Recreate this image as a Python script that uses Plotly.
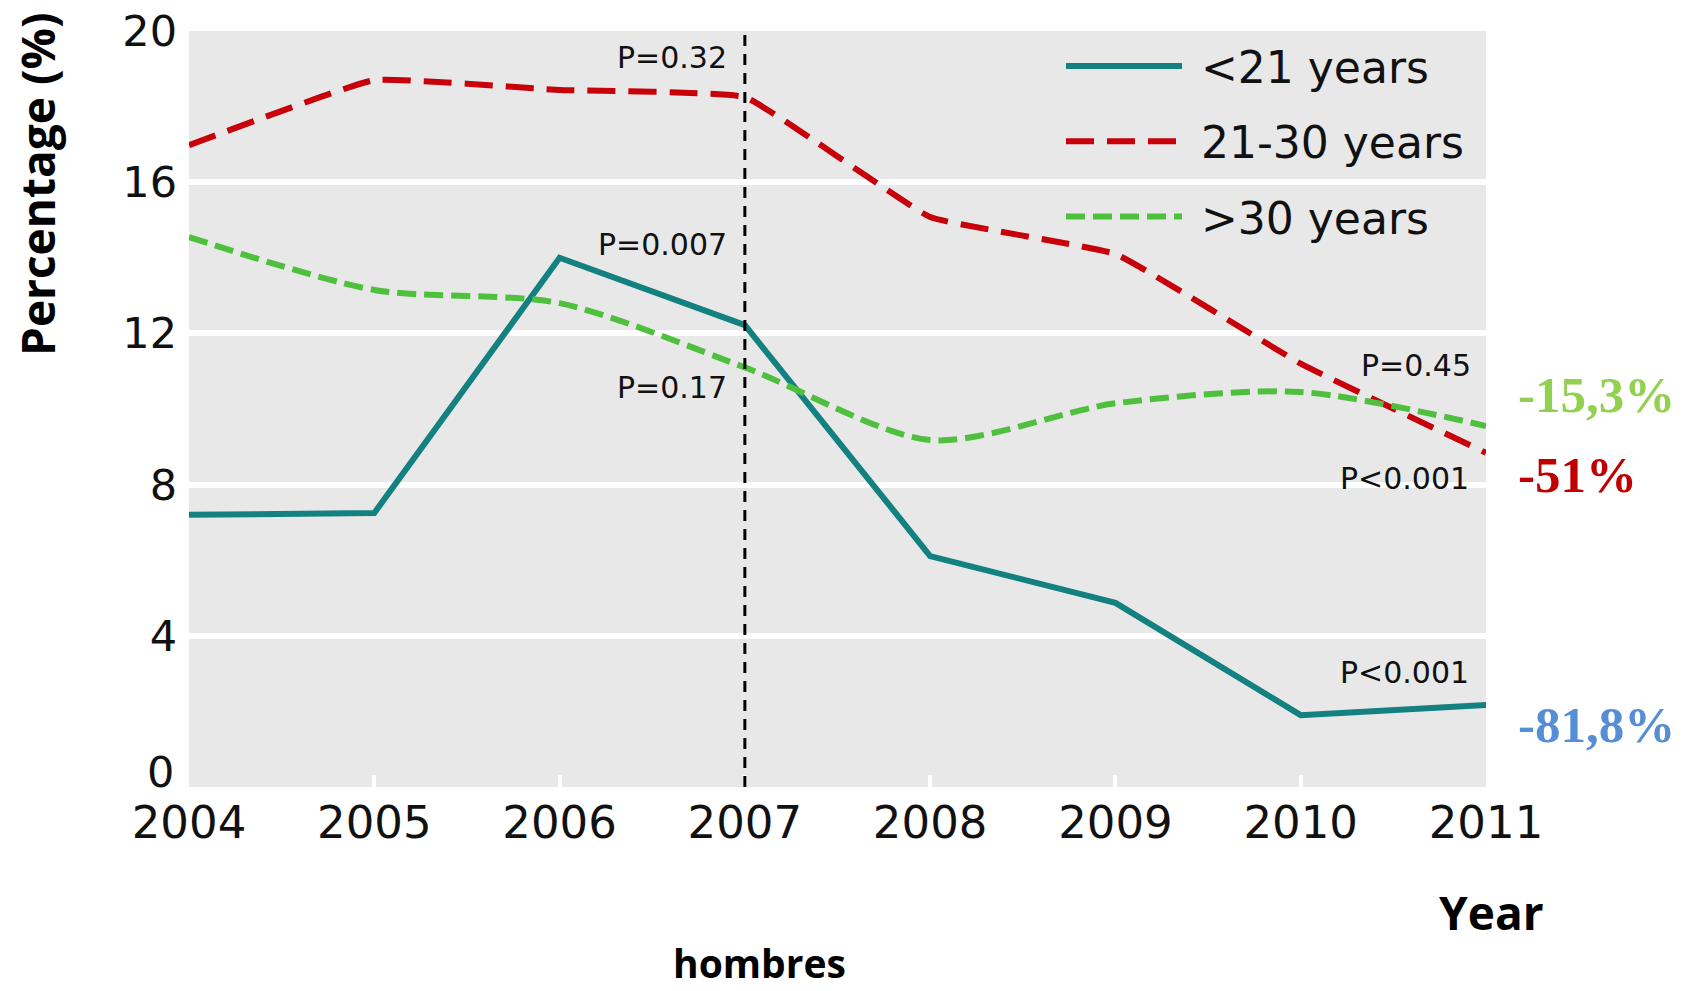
import plotly.graph_objects as go

years = [2004, 2005, 2006, 2007, 2008, 2009, 2010, 2011]
under21 = [7.2, 7.25, 14.0, 12.22, 6.11, 4.87, 1.9, 2.17]
age21_30 = [16.98, 18.7, 18.44, 18.25, 15.08, 14.1, 11.2, 8.84]
over30 = [14.55, 13.15, 12.8, 11.1, 9.18, 10.15, 10.45, 9.55]

series_names = ["<21 years", "21-30 years", ">30 years"]
yticks = [4, 8, 12, 16, 20]
y_zero_label = "0"

teal = "#13817f"
red = "#c8000a"
green = "#4fbf3e"

W, H = 1693, 991
L, R, T, B = 189, 207, 31, 204
PW, PH = W - L - R, H - T - B


def px(xp):
    return (xp - 189) / PW


def py(yp):
    return (787 - yp) / PH


NB = "\u00a0"

fig = go.Figure()
fig.add_trace(go.Scatter(x=years, y=under21, mode="lines", name=NB + series_names[0],
                         legendgroup="a",
                         line=dict(color=teal, width=6), cliponaxis=False))
fig.add_trace(go.Scatter(x=years, y=age21_30, mode="lines", name=NB + series_names[1],
                         legendgroup="b",
                         line=dict(color=red, width=6, dash="28px,13px",
                                   shape="spline", smoothing=0.3), cliponaxis=False))
fig.add_trace(go.Scatter(x=years, y=over30, mode="lines", name=NB + series_names[2],
                         legendgroup="c",
                         line=dict(color=green, width=6, dash="19px,8px",
                                   shape="spline", smoothing=0.8), cliponaxis=False))

# vertical dashed line at 2007
fig.add_shape(type="line", x0=2007, x1=2007, y0=0, y1=20, xref="x", yref="y",
              line=dict(color="black", width=3, dash="11px,8px"))

pfont = dict(family="DejaVu Sans", size=30, color="#111111")
p_labels = [
    (2007, 19.29, "P=0.32", -16),
    (2007, 14.34, "P=0.007", -16),
    (2007, 10.58, "P=0.17", -16),
    (2011, 11.14, "P=0.45", -13),
    (2011, 8.17, "P<0.001", -15),
    (2011, 3.04, "P<0.001", -15),
]
for x, y, t, xs in p_labels:
    fig.add_annotation(x=x, y=y, xref="x", yref="y", text=t, showarrow=False,
                       xanchor="right", yanchor="middle", xshift=xs, font=pfont)

pct_labels = [
    (10.37, "-15,3%", "#92d050"),
    (8.25, "-51%", "#c00000"),
    (1.64, "-81,8%", "#558ed5"),
]
for y, t, c in pct_labels:
    fig.add_annotation(x=2011, y=y, xref="x", yref="y", text="<b>" + t + "</b>",
                       showarrow=False, xanchor="left", yanchor="middle", xshift=30,
                       font=dict(family="Liberation Serif", size=51, color=c))

# "0" tick label sits raised, bottom-aligned with the axis
fig.add_annotation(x=px(176), y=py(772), xref="paper", yref="paper", text=y_zero_label,
                   showarrow=False, xanchor="right", yanchor="middle",
                   font=dict(family="DejaVu Sans", size=43, color="#111111"))

bold = dict(family="Open Sans", size=46, color="black")
fig.add_annotation(x=px(37), y=py(184), xref="paper", yref="paper",
                   text="<b>Percentage (%)</b>", textangle=-90, showarrow=False,
                   xanchor="center", yanchor="middle", font=bold)
fig.add_annotation(x=px(1491), y=py(912), xref="paper", yref="paper",
                   text="<b>Year</b>", showarrow=False,
                   xanchor="center", yanchor="middle", font=bold)
fig.add_annotation(x=px(759), y=py(991), xref="paper", yref="paper",
                   text="<b>hombres</b>", showarrow=False,
                   xanchor="center", yanchor="bottom",
                   font=dict(family="Open Sans", size=39, color="black"))

fig.update_layout(
    width=W, height=H, autosize=False,
    margin=dict(l=L, r=R, t=T, b=B, pad=0),
    paper_bgcolor="white", plot_bgcolor="#e8e8e8",
    showlegend=True,
    legend=dict(x=px(1061), y=1.0, xanchor="left", yanchor="top",
                bgcolor="rgba(0,0,0,0)",
                font=dict(family="DejaVu Sans", size=44, color="#111111"),
                itemwidth=116, tracegroupgap=15, traceorder="grouped"),
    xaxis=dict(range=[2004, 2011], tickvals=years, ticktext=[str(y) for y in years],
               showgrid=False, zeroline=False, showline=False, automargin=False,
               ticks="inside", ticklen=12, tickwidth=4, tickcolor="white",
               ticklabelstandoff=5,
               tickfont=dict(family="DejaVu Sans", size=45, color="#111111")),
    yaxis=dict(range=[0, 20], tickvals=yticks, showgrid=True, gridcolor="white",
               gridwidth=6, zeroline=False, showline=False, ticks="", automargin=False,
               ticklabelstandoff=11, ticklabeloverflow="allow",
               tickfont=dict(family="DejaVu Sans", size=43, color="#111111")),
)

fig.write_html("out.html", config={"displayModeBar": False},
               post_script="document.body.style.margin='0';document.body.style.overflow='hidden';")
